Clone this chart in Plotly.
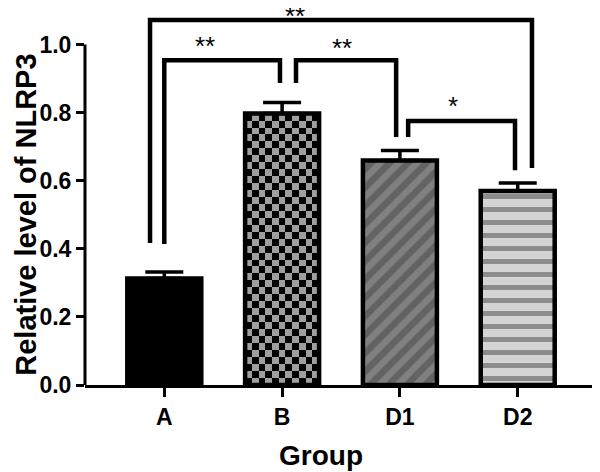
import numpy as np
import plotly.graph_objects as go

# ---------------- data ----------------
categories = ["A", "B", "D1", "D2"]
values = [0.313, 0.797, 0.659, 0.570]
errors = [0.019, 0.033, 0.030, 0.023]
y_tick_vals = [0.0, 0.2, 0.4, 0.6, 0.8, 1.0]
y_tick_text = ["0.0", "0.2", "0.4", "0.6", "0.8", "1.0"]

# significance brackets: left group, right group, label
sig_left = [0, 0, 1, 2]
sig_right = [3, 1, 2, 3]
sig_labels = ["**", "**", "**", "*"]
# bracket geometry (leg offsets from group centre, line height, leg bottoms)
sig_left_off = [-0.121, 0.0, 0.118, 0.070]
sig_right_off = [0.121, -0.018, -0.032, -0.023]
sig_line_y = [1.072, 0.954, 0.954, 0.775]
sig_left_bottom = [0.417, 0.414, 0.887, 0.728]
sig_right_bottom = [0.637, 0.887, 0.728, 0.631]
sig_label_x = [1.109, 0.345, 1.508, 2.451]
sig_label_y = [1.100, 1.012, 1.006, 0.838]

# ---------------- style ----------------
FONT = "Liberation Sans, Arial, sans-serif"
bar_width = 0.628
x_positions = list(range(len(categories)))
fills = ["#000000", "rgba(0,0,0,0)", "#808080", "#d4d4d4"]
pattern_shapes = ["", "", "/", "-"]
pattern_sizes = [8, 8, 13, 13]
pattern_solidity = [0.3, 0.3, 0.5, 0.38]

W, H = 592, 464          # page body has an 8px margin
ML, MR, MT, MB = 77, 5, 0, 87
PLOT_H = H - MT - MB
Y_MAX = PLOT_H / 340.5

fig = go.Figure()

# checkerboard fill for group B (heatmap texture under the bar outline)
b_idx = 1
cell_dx_target, cell_dy_target = 0.0594, 0.0206
ncols = int(round(bar_width / cell_dx_target))
nrows = int(round(values[b_idx] / cell_dy_target))
cdx = bar_width / ncols
cdy = values[b_idx] / nrows
z = [[(i + j) % 2 for j in range(ncols)] for i in range(nrows)]
fig.add_trace(go.Heatmap(
    z=z, x0=x_positions[b_idx] - bar_width / 2 + cdx / 2, dx=cdx,
    y0=cdy / 2, dy=cdy, zmin=0, zmax=1,
    colorscale=[[0, "#000000"], [1, "#9f9f9f"]],
    showscale=False, hoverinfo="skip",
))

fig.add_trace(go.Bar(
    x=x_positions, y=values, width=bar_width,
    marker=dict(
        color=fills,
        line=dict(color="black", width=4.5),
        pattern=dict(shape=pattern_shapes, fgcolor="black",
                     size=pattern_sizes, solidity=pattern_solidity),
    ),
    error_y=dict(type="data", array=errors, arrayminus=[0] * len(errors),
                 symmetric=False, color="black", thickness=3.5, width=19),
    showlegend=False,
))

# brackets
for i in range(len(sig_labels)):
    xl = x_positions[sig_left[i]] + sig_left_off[i]
    xr = x_positions[sig_right[i]] + sig_right_off[i]
    fig.add_trace(go.Scatter(
        x=[xl, xl, xr, xr],
        y=[sig_left_bottom[i], sig_line_y[i], sig_line_y[i], sig_right_bottom[i]],
        mode="lines", line=dict(color="black", width=4.5),
        showlegend=False, hoverinfo="skip",
    ))
    fig.add_annotation(
        x=sig_label_x[i], y=sig_label_y[i], xref="x", yref="y",
        text=sig_labels[i], showarrow=False, yanchor="middle", yshift=-6,
        font=dict(family=FONT, size=26, color="black"),
    )

# y axis line from 0 to 1.0 only
fig.add_shape(type="line", xref="paper", yref="paper",
              x0=0, x1=0, y0=0, y1=1.0 / Y_MAX,
              line=dict(color="black", width=3))

# axis titles
fig.add_annotation(
    text="Relative level of NLRP3", textangle=-90,
    xref="paper", yref="y", x=-ML / 510, y=0.5,
    xanchor="left", yanchor="middle", showarrow=False,
    font=dict(family=FONT, size=29, color="black", weight="bold"),
)
fig.add_annotation(
    text="Group", xref="paper", yref="paper",
    x=(313 - ML) / 510, y=(PLOT_H - 447) / PLOT_H,
    xanchor="center", yanchor="middle", showarrow=False,
    font=dict(family=FONT, size=28, color="black", weight="bold"),
)

fig.update_layout(
    width=W, height=H,
    margin=dict(l=ML, r=MR, t=MT, b=MB, pad=0),
    paper_bgcolor="white", plot_bgcolor="white",
    font=dict(family=FONT, color="black"),
    xaxis=dict(
        range=[-0.673, 3.656], tickvals=x_positions, ticktext=categories,
        showline=True, linecolor="black", linewidth=3,
        ticks="outside", ticklen=9, tickwidth=3, tickcolor="black",
        showgrid=False, zeroline=False,
        tickfont=dict(family=FONT, size=23, color="black", weight="bold"),
    ),
    yaxis=dict(
        range=[0, Y_MAX], tickvals=y_tick_vals, ticktext=y_tick_text,
        showline=False, ticks="outside", ticklen=8, tickwidth=3,
        tickcolor="black", showgrid=False, zeroline=False,
        tickfont=dict(family=FONT, size=23, color="black", weight="bold"),
    ),
)

fig.write_html("out.html")
